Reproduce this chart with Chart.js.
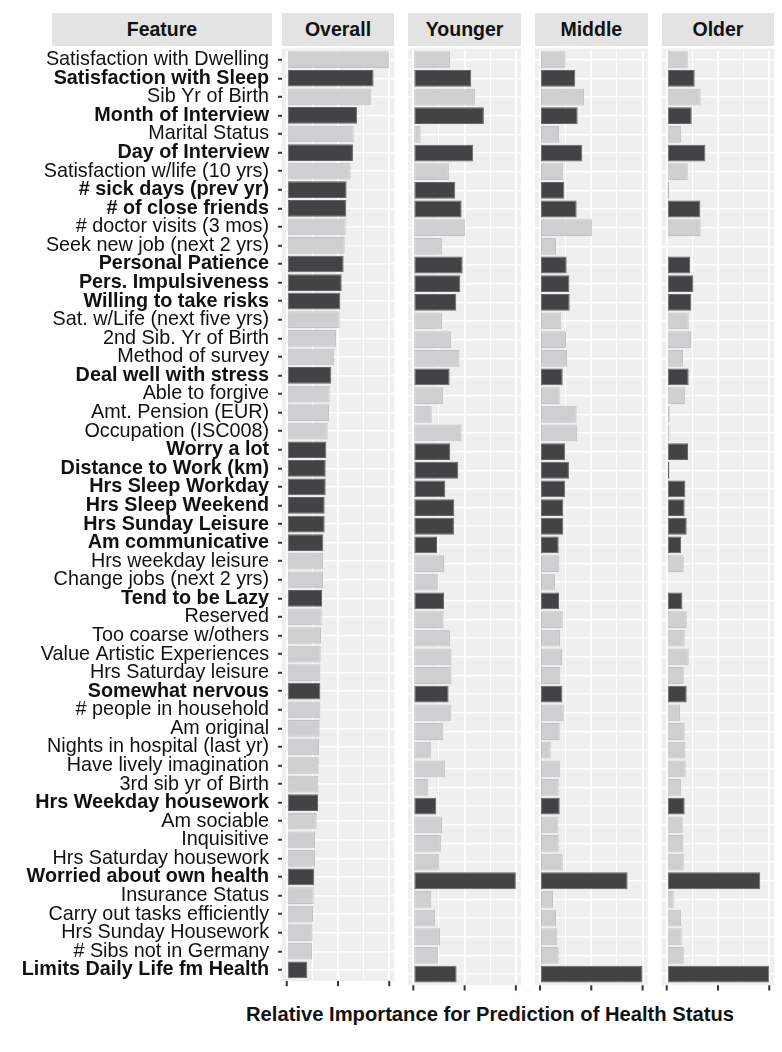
<!DOCTYPE html>
<html><head><meta charset="utf-8">
<script src="https://cdn.jsdelivr.net/npm/chart.js@4.4.1/dist/chart.umd.min.js"></script>
<style>
html,body{margin:0;padding:0;background:#fff;}
body{width:782px;height:1052px;position:relative;overflow:hidden;font-family:"Liberation Sans",Arial,Helvetica,sans-serif;}
.strip{position:absolute;top:12.7px;height:33px;background:#e3e3e3;color:#111;font-weight:bold;font-size:19.5px;display:flex;align-items:center;justify-content:center;}
canvas{position:absolute;top:0;}
#xtitle{position:absolute;top:1003px;left:190px;width:600px;text-align:center;font-weight:bold;font-size:20.2px;color:#111;white-space:nowrap;}
</style></head><body>
<div class="strip" style="left:52px;width:220px;">Feature</div>
<div class="strip" style="left:281.6px;width:112.8px;">Overall</div>
<div class="strip" style="left:408.2px;width:112.8px;">Younger</div>
<div class="strip" style="left:534.9px;width:112.8px;">Middle</div>
<div class="strip" style="left:661.6px;width:112.8px;">Older</div>
<canvas id="c0" width="400" height="1000" style="left:0px;"></canvas>
<canvas id="c1" width="130" height="1000" style="left:400px;"></canvas>
<canvas id="c2" width="130" height="1000" style="left:527px;"></canvas>
<canvas id="c3" width="128" height="1000" style="left:654px;"></canvas>
<div id="xtitle">Relative Importance for Prediction of Health Status</div>
<script>
const features = [
  "Satisfaction with Dwelling","Satisfaction with Sleep","Sib Yr of Birth","Month of Interview",
  "Marital Status","Day of Interview","Satisfaction w/life (10 yrs)","# sick days (prev yr)",
  "# of close friends","# doctor visits (3 mos)","Seek new job (next 2 yrs)","Personal Patience",
  "Pers. Impulsiveness","Willing to take risks","Sat. w/Life (next five yrs)","2nd Sib. Yr of Birth",
  "Method of survey","Deal well with stress","Able to forgive","Amt. Pension (EUR)",
  "Occupation (ISC008)","Worry a lot","Distance to Work (km)","Hrs Sleep Workday",
  "Hrs Sleep Weekend","Hrs Sunday Leisure","Am communicative","Hrs weekday leisure",
  "Change jobs (next 2 yrs)","Tend to be Lazy","Reserved","Too coarse w/others",
  "Value Artistic Experiences","Hrs Saturday leisure","Somewhat nervous","# people in household",
  "Am original","Nights in hospital (last yr)","Have lively imagination","3rd sib yr of Birth",
  "Hrs Weekday housework","Am sociable","Inquisitive","Hrs Saturday housework",
  "Worried about own health","Insurance Status","Carry out tasks efficiently","Hrs Sunday Housework",
  "# Sibs not in Germany","Limits Daily Life fm Health"
];
const highlighted = [
  "Satisfaction with Sleep","Month of Interview","Day of Interview","# sick days (prev yr)",
  "# of close friends","Personal Patience","Pers. Impulsiveness","Willing to take risks",
  "Deal well with stress","Worry a lot","Distance to Work (km)","Hrs Sleep Workday",
  "Hrs Sleep Weekend","Hrs Sunday Leisure","Am communicative","Tend to be Lazy",
  "Somewhat nervous","Hrs Weekday housework","Worried about own health","Limits Daily Life fm Health"
];
const panelTitles = ["Overall","Younger","Middle","Older"];
const overall = [1.0,0.847,0.825,0.685,0.653,0.646,0.623,0.584,0.581,0.575,
  0.565,0.555,0.536,0.523,0.516,0.481,0.464,0.435,0.419,0.412,
  0.399,0.386,0.380,0.380,0.370,0.370,0.357,0.354,0.354,0.344,
  0.341,0.334,0.331,0.328,0.328,0.328,0.321,0.315,0.312,0.308,
  0.305,0.292,0.276,0.276,0.269,0.263,0.256,0.253,0.247,0.201];
const younger = [0.357,0.565,0.601,0.688,0.071,0.584,0.347,0.409,0.471,0.506,
  0.282,0.481,0.458,0.419,0.279,0.367,0.451,0.354,0.289,0.179,
  0.471,0.360,0.438,0.312,0.399,0.396,0.231,0.299,0.244,0.299,
  0.295,0.357,0.373,0.373,0.344,0.370,0.292,0.175,0.308,0.146,
  0.224,0.279,0.269,0.253,1.0,0.175,0.211,0.260,0.240,0.422];
const middle = [0.250,0.344,0.429,0.367,0.185,0.412,0.227,0.237,0.357,0.506,
  0.156,0.260,0.286,0.289,0.208,0.253,0.263,0.221,0.192,0.357,
  0.360,0.247,0.282,0.247,0.227,0.227,0.182,0.188,0.146,0.185,
  0.221,0.195,0.214,0.198,0.218,0.231,0.192,0.104,0.198,0.182,
  0.192,0.179,0.182,0.221,0.854,0.127,0.156,0.169,0.182,1.0];
const older = [0.205,0.273,0.331,0.244,0.140,0.377,0.205,0.019,0.328,0.331,
  0.013,0.227,0.260,0.240,0.214,0.237,0.159,0.214,0.179,0.029,
  0.026,0.208,0.026,0.182,0.175,0.195,0.140,0.166,0.010,0.153,
  0.195,0.175,0.214,0.166,0.195,0.130,0.175,0.182,0.185,0.140,
  0.175,0.156,0.162,0.166,0.912,0.068,0.140,0.146,0.166,1.0];
const gridTicks = [0, 0.25, 0.5, 0.75, 1];
const majorTicks = [0, 0.5, 1];

const FONT = '"Liberation Sans", Arial, Helvetica, sans-serif';
const DARK = '#434346', LIGHT = '#cfcfd1';
const isBold = features.map(f => highlighted.includes(f));
const EXT = 1.9;

const panelDecor = {
  id: 'panelDecor',
  beforeDraw(chart) {
    const a = chart.chartArea, ctx = chart.ctx;
    ctx.save();
    ctx.fillStyle = '#efefef';
    ctx.fillRect(a.left, a.top - EXT, a.right - a.left, a.bottom - a.top + 2 * EXT);
    ctx.restore();
  },
  afterDraw(chart) {
    const a = chart.chartArea, ctx = chart.ctx, xs = chart.scales.x;
    ctx.save();
    ctx.fillStyle = '#333333';
    majorTicks.forEach(v => {
      const px = xs.getPixelForValue(v);
      ctx.fillRect(px - 1, a.bottom + EXT, 2, 5.2);
    });
    ctx.restore();
  }
};

function makePanel(id, values, withLabels, padL, padR) {
  new Chart(document.getElementById(id), {
    type: 'bar',
    data: {
      labels: features,
      datasets: [{
        data: values,
        backgroundColor: ctx => isBold[ctx.dataIndex] ? DARK : LIGHT,
        borderColor: ctx => isBold[ctx.dataIndex] ? '#666668' : '#c2c2c4',
        borderWidth: 1,
        borderSkipped: false,
        barPercentage: 0.9,
        categoryPercentage: 1.0
      }]
    },
    options: {
      indexAxis: 'y',
      responsive: false,
      animation: false,
      events: [],
      layout: { padding: { left: padL, right: padR, top: 50.4, bottom: 0 } },
      plugins: { legend: { display: false }, tooltip: { enabled: false }, title: { display: false } },
      scales: {
        x: {
          type: 'linear', min: -0.05, max: 1.05,
          afterBuildTicks: s => { s.ticks = gridTicks.map(v => ({ value: v })); },
          afterFit: s => { s.height = 16.6; },
          ticks: { display: false },
          border: { display: false },
          grid: {
            color: '#ffffff',
            lineWidth: ctx => majorTicks.includes(ctx.tick && ctx.tick.value) ? 2 : 1,
            drawTicks: false
          }
        },
        y: {
          type: 'category', offset: true,
          afterFit: s => { s.width = withLabels ? 281.6 : 0; },
          border: { display: false },
          grid: {
            offset: false, color: '#ffffff', lineWidth: 1.5,
            drawTicks: withLabels, tickLength: 3.5, tickColor: '#333333', tickWidth: 2
          },
          ticks: {
            display: withLabels, autoSkip: false, padding: 9, color: '#111111',
            font: ctx => ({ family: FONT, size: 19.8, weight: isBold[ctx.index] ? 'bold' : 'normal' })
          }
        }
      }
    },
    plugins: [panelDecor]
  });
}

makePanel('c0', overall, true, 0, 5.6);
makePanel('c1', younger, false, 8.2, 9.0);
makePanel('c2', middle, false, 7.9, 9.3);
makePanel('c3', older, false, 7.6, 7.6);
</script>
</body></html>
